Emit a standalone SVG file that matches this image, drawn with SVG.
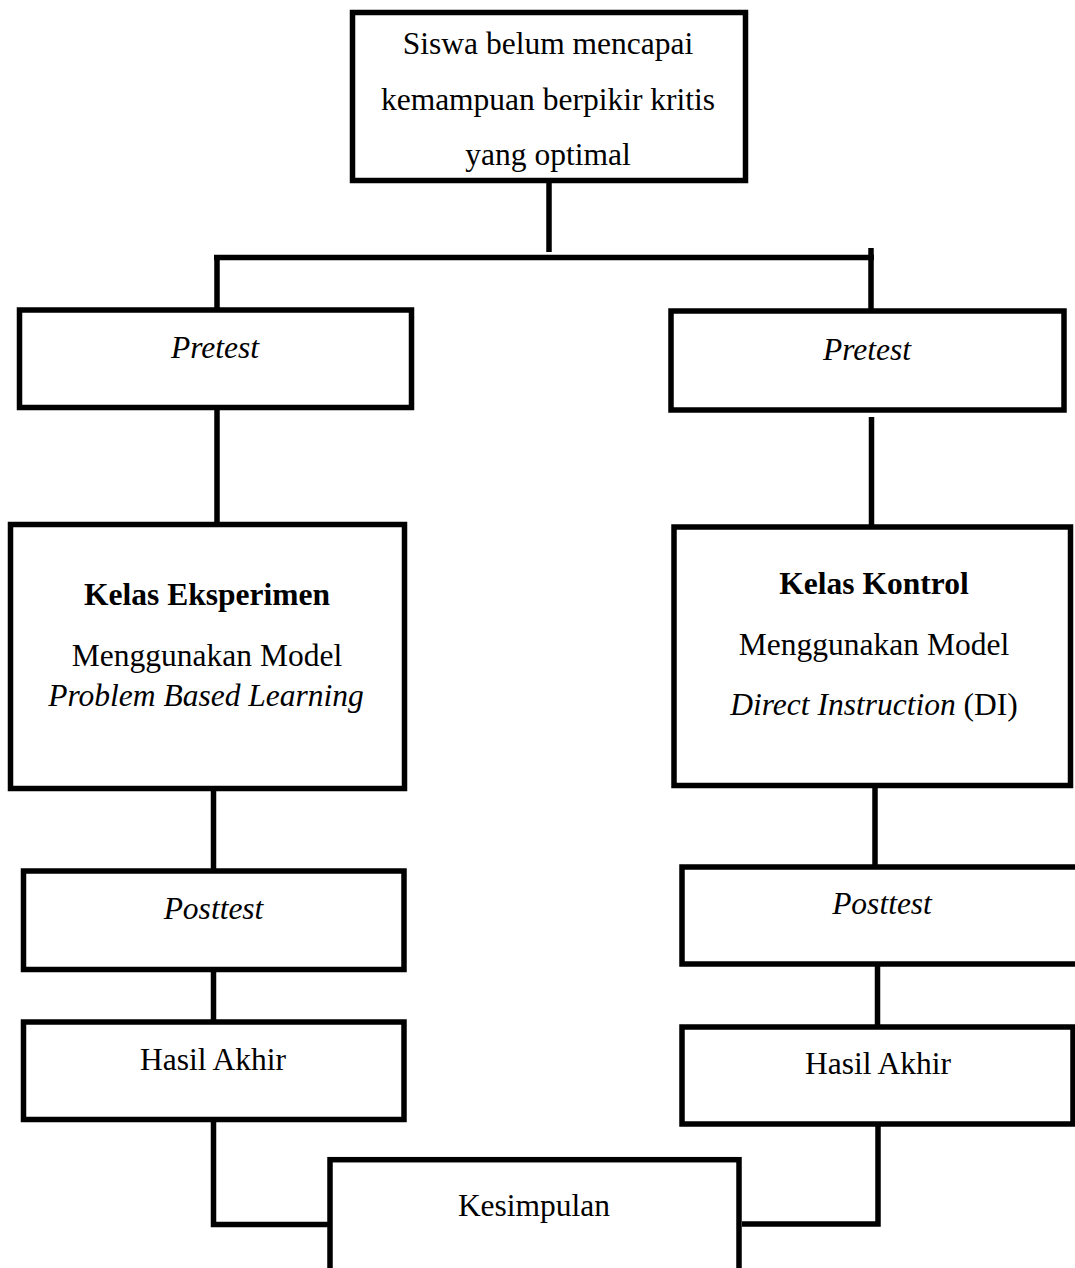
<svg xmlns="http://www.w3.org/2000/svg" width="1075" height="1268" viewBox="0 0 1075 1268">
<style>
.box{fill:#fff;stroke:#000;stroke-width:5.5}
.ln{fill:none;stroke:#000;stroke-width:5.5}
text{font-family:"Liberation Serif","Times New Roman",serif;font-size:31.5px;fill:#000;text-anchor:middle}
.i{font-style:italic}
.b{font-weight:bold}
</style>
<rect width="1075" height="1268" fill="#fff"/>
<g id="connectors">
<path class="ln" d="M549 183V252"/>
<path class="ln" d="M214 257.5H874"/>
<path class="ln" d="M217 255V310"/>
<path class="ln" d="M871 248V311"/>
<path class="ln" d="M217 407V525"/>
<path class="ln" d="M871.5 417V527"/>
<path class="ln" d="M213.5 788V871"/>
<path class="ln" d="M875 785V867"/>
<path class="ln" d="M213.5 969V1022"/>
<path class="ln" d="M877.5 964V1027"/>
<path class="ln" d="M213.5 1119V1224.5H330"/>
<path class="ln" d="M878 1124V1224H742"/>
</g>
<g id="n-top">
<rect class="box" x="352.5" y="12.5" width="393" height="168"/>
<text x="548" y="54">Siswa belum mencapai</text>
<text x="548" y="110">kemampuan berpikir kritis</text>
<text x="548" y="165">yang optimal</text>
</g>
<g id="n-pretest-left">
<rect class="box" x="19.5" y="310" width="392" height="97.5"/>
<text class="i" x="215" y="358">Pretest</text>
</g>
<g id="n-pretest-right">
<rect class="box" x="671" y="311" width="393" height="99"/>
<text class="i" x="867" y="360">Pretest</text>
</g>
<g id="n-eksperimen">
<rect class="box" x="10.5" y="524.5" width="394" height="264"/>
<text class="b" x="207" y="605">Kelas Eksperimen</text>
<text x="207" y="666">Menggunakan Model</text>
<text class="i" x="206" y="706">Problem Based Learning</text>
</g>
<g id="n-kontrol">
<rect class="box" x="674" y="527" width="396.5" height="258.5"/>
<text class="b" x="874" y="594">Kelas Kontrol</text>
<text x="874" y="655">Menggunakan Model</text>
<text x="874" y="715"><tspan class="i">Direct Instruction</tspan> (DI)</text>
</g>
<g id="n-posttest-left">
<rect class="box" x="23.5" y="871" width="380.5" height="98.5"/>
<text class="i" x="213.5" y="919">Posttest</text>
</g>
<g id="n-posttest-right">
<rect class="box" x="682" y="867" width="400" height="97"/>
<text class="i" x="882" y="914">Posttest</text>
</g>
<g id="n-hasil-left">
<rect class="box" x="23.5" y="1022" width="380.5" height="97.5"/>
<text x="213" y="1070">Hasil Akhir</text>
</g>
<g id="n-hasil-right">
<rect class="box" x="682" y="1027" width="391" height="97"/>
<text x="878" y="1074">Hasil Akhir</text>
</g>
<g id="n-kesimpulan">
<rect class="box" x="330" y="1159.7" width="409" height="150"/>
<text x="534" y="1216">Kesimpulan</text>
</g>
</svg>
